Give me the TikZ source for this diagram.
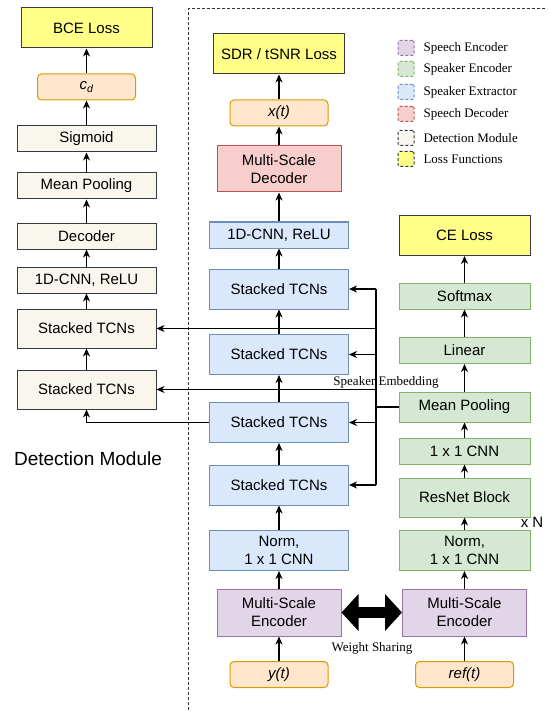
\documentclass[tikz,border=0pt]{standalone}
\usepackage{fontspec}
\setmainfont{Liberation Serif}
\newfontfamily\arialfont{Liberation Sans}
\usetikzlibrary{arrows.meta}

\definecolor{lossfill}{HTML}{FFFF88}
\definecolor{lossdraw}{HTML}{36393D}
\definecolor{detfill}{HTML}{F9F7ED}
\definecolor{extfill}{HTML}{DAE8FC}
\definecolor{extdraw}{HTML}{6C8EBF}
\definecolor{spkfill}{HTML}{D5E8D4}
\definecolor{spkdraw}{HTML}{82B366}
\definecolor{encfill}{HTML}{E1D5E7}
\definecolor{encdraw}{HTML}{9673A6}
\definecolor{decfill}{HTML}{F8CECC}
\definecolor{decdraw}{HTML}{B85450}
\definecolor{sigfill}{HTML}{FFE6CC}
\definecolor{sigdraw}{HTML}{D79B00}

\tikzset{
	blk/.style = {draw, line width = 1pt, inner sep = 0pt, align = center,
		font = \arialfont\fontsize{15}{18}\selectfont},
	lossblk/.style = {blk, fill = lossfill, draw = lossdraw, minimum width = 131, minimum height = 40},
	detblk/.style = {blk, fill = detfill, draw = lossdraw, minimum width = 139},
	extblk/.style = {blk, fill = extfill, draw = extdraw, minimum width = 139},
	spkblk/.style = {blk, fill = spkfill, draw = spkdraw, minimum width = 131},
	encblk/.style = {blk, fill = encfill, draw = encdraw, minimum width = 124, minimum height = 47},
	sigblk/.style = {blk, fill = sigfill, draw = sigdraw, rounded corners = 4pt,
		minimum width = 98, minimum height = 26},
	legsq/.style = {draw, line width = 1pt, dash pattern = on 3pt off 2pt, rounded corners = 1.5pt,
		minimum width = 16, minimum height = 15, inner sep = 0pt},
	conn/.style = {line width = 1.2pt, -{Stealth[length = 8pt, width = 7pt, inset = 2.5pt]}}
}

\begin{document}
\begin{tikzpicture}[x = 1pt, y = -1pt]
		\useasboundingbox (0, 0) rectangle (548, 711);
		\draw[line width = 1pt, dash pattern = on 3pt off 2pt, black!80] (545, 9) -- (188, 9) -- (188, 711);

		\node[lossblk] (bce) at (86.5, 28) {BCE Loss};
		\node[sigblk] (cd) at (86.5, 87) {\textit{c\textsubscript{d}}};
		\node[detblk, minimum height = 26] (sigm) at (86.5, 139) {Sigmoid};
		\node[detblk, minimum height = 26] (lpool) at (86.5, 186) {Mean Pooling};
		\node[detblk, minimum height = 26] (ldec) at (86.5, 236) {Decoder};
		\node[detblk, minimum height = 26] (lcnn) at (86.5, 280) {1D-CNN, ReLU};
		\node[detblk, minimum height = 39] (ltcna) at (86.5, 328.5) {Stacked TCNs};
		\node[detblk, minimum height = 39] (ltcnb) at (86.5, 389.5) {Stacked TCNs};
		\node[font = \arialfont\fontsize{19}{22}\selectfont] (detlabel) at (88, 459) {Detection Module};

		\node[lossblk] (sdr) at (279, 54) {SDR / tSNR Loss};
		\node[sigblk] (xt) at (279, 113) {\textit{x(t)}};
		\node[blk, fill = decfill, draw = decdraw, minimum width = 124, minimum height = 46] (dec) at (279, 169) {Multi-Scale\\Decoder};
		\node[extblk, minimum height = 26] (cnn) at (279, 235) {1D-CNN, ReLU};
		\node[extblk, minimum height = 40] (tcna) at (279, 289) {Stacked TCNs};
		\node[extblk, minimum height = 40] (tcnb) at (279, 354.5) {Stacked TCNs};
		\node[extblk, minimum height = 40] (tcnc) at (279, 422.5) {Stacked TCNs};
		\node[extblk, minimum height = 40] (tcnd) at (279, 485) {Stacked TCNs};
		\node[extblk, minimum height = 40] (norm) at (279, 550.5) {Norm,\\1 x 1 CNN};
		\node[encblk] (enc) at (279, 612.5) {Multi-Scale\\Encoder};
		\node[sigblk] (yt) at (279, 674.5) {\textit{y(t)}};

		\node[lossblk] (ce) at (464.5, 235.5) {CE Loss};
		\node[spkblk, minimum height = 26] (soft) at (464.5, 296) {Softmax};
		\node[spkblk, minimum height = 26] (lin) at (464.5, 350.5) {Linear};
		\node[spkblk, minimum height = 30] (rpool) at (464.5, 407) {Mean Pooling};
		\node[spkblk, minimum height = 26] (onecnn) at (464.5, 451) {1 x 1 CNN};
		\node[spkblk, minimum height = 39] (res) at (464.5, 497.5) {ResNet Block};
		\node[spkblk, minimum height = 40] (rnorm) at (464.5, 550.5) {Norm,\\1 x 1 CNN};
		\node[encblk] (renc) at (464.5, 612.5) {Multi-Scale\\Encoder};
		\node[sigblk] (reft) at (464.5, 674.5) {\textit{ref(t)}};
		\node[font = \arialfont\fontsize{15}{18}\selectfont] (xn) at (532, 522) {x N};

		\foreach \y/\f/\d/\t in {48/encfill/encdraw/Speech Encoder, 69/spkfill/spkdraw/Speaker Encoder,
				92/extfill/extdraw/Speaker Extractor, 114/decfill/decdraw/Speech Decoder,
				138/detfill/lossdraw/Detection Module, 159/lossfill/lossdraw/Loss Functions}
		{
			\node[legsq, fill = \f, draw = \d] (leg\y) at (406, \y) {};
			\node[anchor = west, font = \fontsize{13}{15}\selectfont] (legtxt\y) at (420, \y) {\t};
		}

		\foreach \a/\b in {ltcnb/ltcna, ltcna/lcnn, lcnn/ldec, ldec/lpool, lpool/sigm, sigm/cd, cd/bce,
				yt/enc, enc/norm, norm/tcnd, tcnd/tcnc, tcnc/tcnb, tcnb/tcna, tcna/cnn, cnn/dec, dec/xt, xt/sdr,
				reft/renc, renc/rnorm, rnorm/res, res/onecnn, onecnn/rpool, rpool/lin, lin/soft, soft/ce}
			\draw[conn] (\a) -- (\b);

		\coordinate (bus) at (376, 0);
		\draw[line width = 2pt] (rpool.west) -- (rpool.west -| bus);
		\draw[line width = 1.5pt] (tcna.east -| bus) -- (tcnd.east -| bus);
		\foreach \t in {tcna, tcnb, tcnc, tcnd, ltcna, ltcnb}
			\draw[conn] (\t.east -| bus) -- (\t.east);
		\draw[conn] (tcnc.west) -| (ltcnb.south);
		\node[font = \fontsize{13}{15}\selectfont] (spkemb) at (386, 382) {Speaker Embedding};

		\draw[line width = 11pt, {Triangle[length = 17pt, width = 36pt]}-{Triangle[length = 17pt, width = 36pt]}] (enc) -- (renc);
		\node[font = \fontsize{13}{15}\selectfont] (wshare) at (372, 648) {Weight Sharing};
	\end{tikzpicture}
\end{document}
